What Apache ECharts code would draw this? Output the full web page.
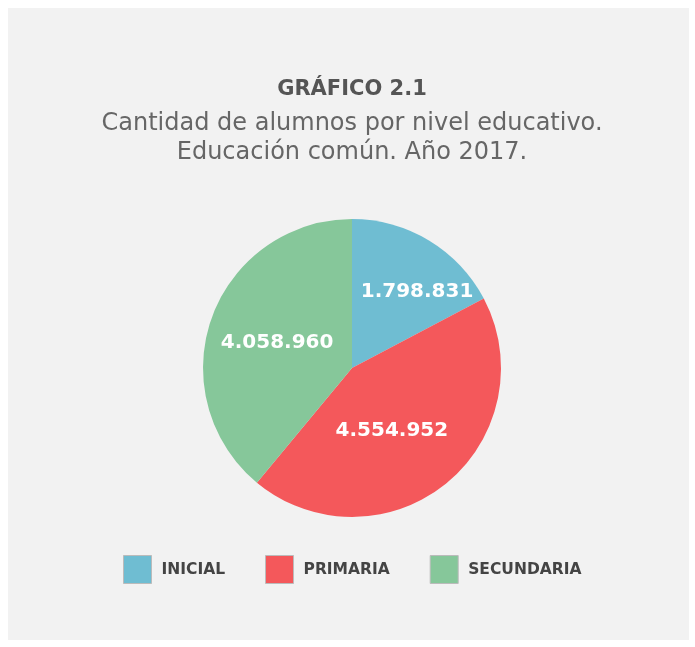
<!DOCTYPE html>
<html>
<head>
    <meta charset="utf-8">
    <title>Gráfico 2.1</title>
    <script src="https://cdn.jsdelivr.net/npm/echarts@6/dist/echarts.min.js"></script>
    <style>
        body { margin: 0; background: #fff; }
        #chart { width: 695px; height: 647px; }
    </style>
</head>
<body>
    <div id="chart"></div>
    <script type="text/javascript">
        // datos del gráfico
        var niveles = ['INICIAL', 'PRIMARIA', 'SECUNDARIA'];
        var alumnos = [1798831, 4554952, 4058960];
        var colores = ['#6fbdd2', '#f4585b', '#86c79a'];

        function miles(v) {
            return String(v).replace(/\B(?=(\d{3})+(?!\d))/g, '.');
        }

        var chart = echarts.init(document.getElementById('chart'));

        var datos = [];
        for (var i = 0; i < niveles.length; i++) {
            datos.push({ name: niveles[i], value: alumnos[i], itemStyle: { color: colores[i] } });
        }

        var option = {
            backgroundColor: '#fff',
            animation: false,
            graphic: [{
                type: 'rect',
                shape: { x: 8, y: 8, width: 681, height: 632 },
                style: { fill: '#f2f2f2' },
                z: -10
            }],
            title: {
                text: 'GRÁFICO 2.1',
                subtext: 'Cantidad de alumnos por nivel educativo.\nEducación común. Año 2017.',
                left: 347,
                textAlign: 'center',
                top: 74,
                itemGap: 9,
                textStyle: {
                    fontFamily: 'DejaVu Sans',
                    fontWeight: 'bold',
                    fontSize: 21,
                    color: '#555555'
                },
                subtextStyle: {
                    fontFamily: 'DejaVu Sans',
                    fontSize: 24,
                    lineHeight: 29,
                    color: '#666666'
                }
            },
            legend: {
                data: niveles,
                left: 123,
                top: 555,
                padding: 0,
                itemWidth: 28,
                itemHeight: 28,
                itemGap: 40,
                icon: 'rect',
                itemStyle: { borderColor: '#bbbbbb', borderWidth: 1 },
                textStyle: {
                    fontFamily: 'DejaVu Sans',
                    fontWeight: 'bold',
                    fontSize: 15.5,
                    color: '#444444',
                    padding: [0, 0, 0, 5]
                }
            },
            series: [{
                type: 'pie',
                center: [352, 368],
                radius: 149,
                startAngle: 90,
                clockwise: true,
                data: datos,
                label: {
                    show: true,
                    position: 'inside',
                    formatter: function (p) { return miles(p.value); },
                    fontFamily: 'DejaVu Sans',
                    fontWeight: 'bold',
                    fontSize: 20,
                    color: '#ffffff'
                },
                labelLayout: function (p) {
                    if (p.dataIndex === 0) return { dx: 25, dy: -10 };
                    if (p.dataIndex === 1) return { dx: -9, dy: 3 };
                    return { dx: -2, dy: 1 };
                },
                labelLine: { show: false },
                emphasis: { disabled: true }
            }]
        };

        chart.setOption(option);
    </script>
</body>
</html>
